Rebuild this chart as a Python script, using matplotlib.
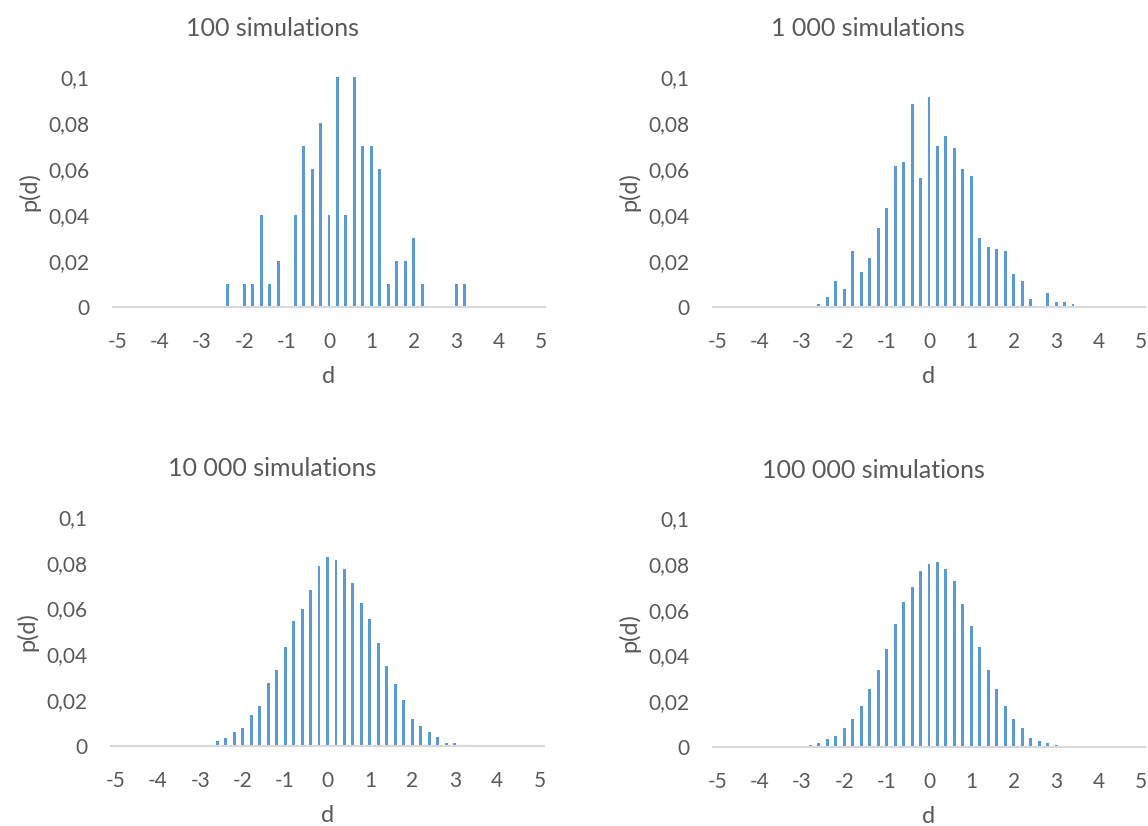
import matplotlib
matplotlib.use("Agg")
import matplotlib.pyplot as plt

plt.rcParams['font.family'] = ['Lato', 'DejaVu Sans']

# distribution of d for each number of simulations
d_100 = [-2.4, -2.0, -1.8, -1.6, -1.4, -1.2, -0.8, -0.6, -0.4, -0.2, 0.0, 0.2,
         0.4, 0.6, 0.8, 1.0, 1.2, 1.4, 1.6, 1.8, 2.0, 2.2, 3.0, 3.2]
p_100 = [0.01, 0.01, 0.01, 0.04, 0.01, 0.02, 0.04, 0.07, 0.06, 0.08, 0.04, 0.10,
         0.04, 0.10, 0.07, 0.07, 0.06, 0.01, 0.02, 0.02, 0.03, 0.01, 0.01, 0.01]

d_1000 = [-2.6, -2.4, -2.2, -2.0, -1.8, -1.6, -1.4, -1.2, -1.0, -0.8, -0.6, -0.4,
          -0.2, 0.0, 0.2, 0.4, 0.6, 0.8, 1.0, 1.2, 1.4, 1.6, 1.8, 2.0, 2.2, 2.4,
          2.8, 3.0, 3.2, 3.4]
p_1000 = [0.001, 0.004, 0.011, 0.0075, 0.024, 0.015, 0.021, 0.034, 0.043, 0.061,
          0.063, 0.088, 0.056, 0.091, 0.070, 0.074, 0.069, 0.060, 0.057, 0.030,
          0.026, 0.025, 0.024, 0.014, 0.011, 0.0035, 0.006, 0.002, 0.002, 0.001]

d_10000 = [-2.6, -2.4, -2.2, -2.0, -1.8, -1.6, -1.4, -1.2, -1.0, -0.8, -0.6, -0.4,
           -0.2, 0.0, 0.2, 0.4, 0.6, 0.8, 1.0, 1.2, 1.4, 1.6, 1.8, 2.0, 2.2, 2.4,
           2.6, 2.8, 3.0]
p_10000 = [0.002, 0.0035, 0.006, 0.0076, 0.0134, 0.0175, 0.0276, 0.0331, 0.0432,
           0.0547, 0.0597, 0.068, 0.0785, 0.0826, 0.0812, 0.0771, 0.0712, 0.0622,
           0.0556, 0.0448, 0.035, 0.0269, 0.0201, 0.0118, 0.0085, 0.0061, 0.0036,
           0.001, 0.0012]

d_100000 = [-2.8, -2.6, -2.4, -2.2, -2.0, -1.8, -1.6, -1.4, -1.2, -1.0, -0.8, -0.6,
            -0.4, -0.2, 0.0, 0.2, 0.4, 0.6, 0.8, 1.0, 1.2, 1.4, 1.6, 1.8, 2.0, 2.2,
            2.4, 2.6, 2.8, 3.0]
p_100000 = [0.0009, 0.0017, 0.0035, 0.0051, 0.0083, 0.0125, 0.0182, 0.0256, 0.0338,
            0.0429, 0.0536, 0.0635, 0.070, 0.0767, 0.0799, 0.0808, 0.0776, 0.0726,
            0.0627, 0.0528, 0.0438, 0.0338, 0.0256, 0.0182, 0.0125, 0.0083, 0.0042,
            0.0026, 0.0017, 0.0009]

titles = ['100 simulations', '1 000 simulations', '10 000 simulations', '100 000 simulations']
x_ticks = [-5, -4, -3, -2, -1, 0, 1, 2, 3, 4, 5]
y_ticks = [0, 0.02, 0.04, 0.06, 0.08, 0.1]
y_tick_labels = ['0', '0,02', '0,04', '0,06', '0,08', '0,1']

series = [(d_100, p_100), (d_1000, p_1000), (d_10000, p_10000), (d_100000, p_100000)]

W, H = 1148, 826
fig = plt.figure(figsize=(W / 100, H / 100), dpi=100)

# plot areas in pixels: left, right, top(0.1), baseline(0)
boxes = [(113, 545, 76.7, 306.7), (713, 1145, 76.7, 306.7),
         (111, 544, 517, 745.7), (713, 1145, 518, 747.3)]
title_pos = [(273, 29), (868, 29), (272, 468), (873, 470)]

blue = '#5B9BD5'
grey = '#595959'

for i, (d, p) in enumerate(series):
    l, r, t, b = boxes[i]
    ax = fig.add_axes([l / W, 1 - b / H, (r - l) / W, (b - t) / H])
    ax.bar(d, p, width=0.07, color=blue, clip_on=False)
    ax.set_xlim(-5.1, 5.1)
    ax.set_ylim(0, 0.1)
    ax.set_xticks(x_ticks)
    ax.set_xticklabels([str(x) for x in x_ticks])
    ax.set_yticks(y_ticks)
    ax.set_yticklabels(y_tick_labels)
    ax.tick_params(length=0, labelsize=15, labelcolor=grey)
    ax.tick_params(axis='y', pad=17)
    ax.tick_params(axis='x', pad=18)
    for s in ['top', 'right', 'left']:
        ax.spines[s].set_visible(False)
    ax.spines['bottom'].set_color('#D9D9D9')
    ax.spines['bottom'].set_linewidth(1.5)
    ax.set_xlabel('d', fontsize=17, color=grey, labelpad=10)
    ax.set_ylabel('p(d)', fontsize=17, color=grey, labelpad=6)
    fig.text(title_pos[i][0] / W, 1 - title_pos[i][1] / H, titles[i],
             fontsize=18, color=grey, ha='center', va='center')

fig.savefig('out.png', dpi=100, facecolor='white')
